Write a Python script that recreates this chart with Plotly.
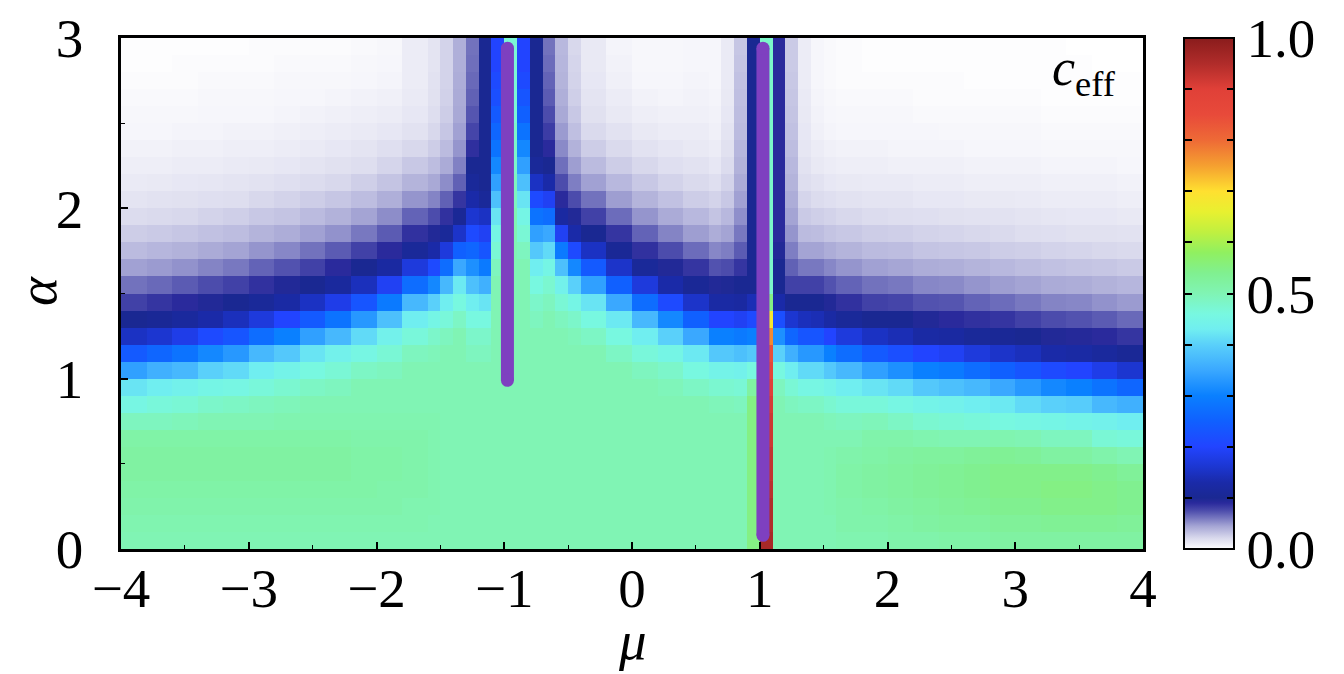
import numpy as np
import plotly.graph_objects as go

# ---------------- data ----------------
# cell edges of the c_eff map (mu horizontally, alpha vertically)
mu_edges = [-4.0, -3.8, -3.6, -3.4, -3.2, -3.0, -2.8, -2.6, -2.4, -2.2, -2.0, -1.8, -1.6,
            -1.5, -1.4, -1.3, -1.2, -1.1, -1.0, -0.9, -0.8, -0.7, -0.6, -0.5, -0.4,
            -0.2, 0.0, 0.2, 0.4, 0.6,
            0.7, 0.8, 0.9, 1.0, 1.1, 1.2, 1.3, 1.4, 1.5, 1.6,
            1.8, 2.0, 2.2, 2.4, 2.6, 2.8, 3.0, 3.2, 3.4, 3.6, 3.8, 4.0]
alpha_edges = [0.0, 0.1, 0.2, 0.3, 0.4, 0.5, 0.6, 0.7, 0.8, 0.9, 1.0, 1.1, 1.2, 1.3, 1.4, 1.5,
               1.6, 1.7, 1.8, 1.9, 2.0, 2.1, 2.2, 2.3, 2.4, 2.5, 2.6, 2.7, 2.8, 2.9, 3.0]

# each inner list: one mu-column of c_eff, from alpha = 0 (bottom) to alpha = 3 (top)
left_far = [
    [0.50,0.505,0.51,0.515,0.52,0.52,0.515,0.49,0.455,0.42,0.34,0.24,0.15,0.10,0.08,0.062,0.046,0.035,0.027,0.02,0.015,0.011,0.009,0.007,0.005,0.004,0.003,0.002,0.001,0.001],
    [0.50,0.505,0.51,0.515,0.52,0.52,0.515,0.49,0.465,0.43,0.36,0.26,0.16,0.105,0.085,0.065,0.048,0.037,0.028,0.021,0.016,0.012,0.009,0.007,0.005,0.004,0.003,0.002,0.001,0.001],
    [0.50,0.505,0.51,0.515,0.52,0.52,0.515,0.495,0.47,0.44,0.37,0.28,0.18,0.115,0.09,0.07,0.051,0.039,0.03,0.022,0.017,0.013,0.01,0.008,0.006,0.004,0.003,0.002,0.002,0.001],
    [0.50,0.505,0.51,0.515,0.52,0.52,0.515,0.50,0.48,0.45,0.40,0.31,0.21,0.13,0.095,0.075,0.056,0.042,0.032,0.024,0.018,0.014,0.01,0.008,0.006,0.005,0.004,0.003,0.002,0.001],
    [0.50,0.505,0.51,0.515,0.52,0.52,0.515,0.50,0.485,0.455,0.41,0.33,0.23,0.145,0.10,0.08,0.06,0.045,0.034,0.026,0.019,0.015,0.011,0.009,0.007,0.005,0.004,0.003,0.002,0.001],
    [0.50,0.505,0.51,0.515,0.52,0.52,0.515,0.50,0.49,0.465,0.43,0.37,0.27,0.17,0.11,0.087,0.067,0.05,0.038,0.029,0.022,0.016,0.012,0.009,0.007,0.005,0.004,0.003,0.002,0.002],
    [0.50,0.505,0.51,0.515,0.52,0.52,0.515,0.505,0.495,0.475,0.445,0.39,0.30,0.20,0.125,0.095,0.073,0.055,0.041,0.031,0.024,0.018,0.013,0.01,0.008,0.006,0.005,0.004,0.003,0.002],
    [0.50,0.505,0.51,0.515,0.52,0.52,0.515,0.505,0.50,0.485,0.46,0.42,0.34,0.24,0.15,0.10,0.08,0.062,0.046,0.035,0.027,0.02,0.015,0.011,0.009,0.007,0.005,0.004,0.003,0.002],
    [0.50,0.505,0.51,0.515,0.52,0.52,0.515,0.505,0.50,0.49,0.47,0.44,0.37,0.28,0.18,0.115,0.09,0.07,0.051,0.039,0.03,0.022,0.017,0.013,0.01,0.008,0.006,0.004,0.003,0.002],
    [0.50,0.505,0.51,0.515,0.515,0.515,0.51,0.505,0.50,0.50,0.485,0.455,0.41,0.33,0.23,0.145,0.10,0.08,0.06,0.045,0.034,0.026,0.019,0.015,0.011,0.009,0.007,0.005,0.004,0.003],
    [0.50,0.505,0.51,0.51,0.515,0.515,0.51,0.505,0.50,0.50,0.49,0.47,0.44,0.38,0.29,0.19,0.12,0.09,0.07,0.053,0.04,0.031,0.023,0.018,0.013,0.01,0.008,0.006,0.005,0.004],
    [0.50,0.505,0.505,0.51,0.51,0.51,0.51,0.505,0.50,0.50,0.50,0.49,0.465,0.43,0.37,0.27,0.17,0.11,0.087,0.067,0.05,0.038,0.029,0.022,0.016,0.013,0.011,0.01,0.01,0.01],
]
left_crit = [
    [0.50,0.50,0.505,0.505,0.505,0.505,0.505,0.505,0.50,0.50,0.50,0.495,0.48,0.45,0.40,0.31,0.21,0.13,0.095,0.075,0.056,0.043,0.034,0.027,0.022,0.019,0.017,0.016,0.015,0.015],
    [0.50,0.50,0.50,0.50,0.50,0.50,0.50,0.50,0.50,0.50,0.50,0.50,0.49,0.465,0.43,0.37,0.27,0.17,0.11,0.087,0.068,0.053,0.042,0.035,0.03,0.027,0.025,0.024,0.024,0.024],
    [0.50,0.50,0.50,0.50,0.50,0.50,0.50,0.50,0.50,0.50,0.50,0.50,0.50,0.485,0.46,0.425,0.35,0.25,0.155,0.105,0.085,0.068,0.057,0.05,0.046,0.043,0.042,0.041,0.04,0.04],
    [0.50,0.50,0.50,0.50,0.50,0.50,0.50,0.50,0.50,0.50,0.50,0.49,0.48,0.46,0.43,0.38,0.32,0.26,0.21,0.16,0.13,0.11,0.10,0.088,0.078,0.072,0.068,0.065,0.063,0.062],
    [0.50,0.50,0.50,0.50,0.50,0.50,0.50,0.50,0.50,0.50,0.50,0.49,0.48,0.46,0.42,0.36,0.29,0.23,0.19,0.15,0.11,0.10,0.10,0.10,0.10,0.10,0.10,0.10,0.10,0.10],
    [0.50,0.50,0.50,0.50,0.50,0.50,0.50,0.50,0.50,0.50,0.50,0.50,0.50,0.50,0.50,0.50,0.49,0.47,0.45,0.42,0.38,0.34,0.31,0.28,0.26,0.24,0.22,0.21,0.20,0.20],
    [0.50,0.50,0.50,0.50,0.50,0.50,0.50,0.50,0.50,0.50,0.50,0.50,0.50,0.50,0.50,0.50,0.50,0.50,0.50,0.50,0.49,0.49,0.48,0.48,0.48,0.47,0.47,0.47,0.47,0.47],
    [0.50,0.50,0.50,0.50,0.50,0.50,0.50,0.50,0.50,0.50,0.50,0.50,0.50,0.50,0.50,0.50,0.50,0.49,0.47,0.45,0.42,0.38,0.34,0.31,0.28,0.25,0.23,0.21,0.20,0.20],
    [0.50,0.50,0.50,0.50,0.50,0.50,0.50,0.50,0.50,0.50,0.50,0.50,0.50,0.49,0.48,0.46,0.43,0.39,0.34,0.28,0.21,0.15,0.11,0.10,0.10,0.10,0.10,0.10,0.10,0.10],
    [0.50,0.50,0.50,0.50,0.50,0.50,0.50,0.50,0.50,0.50,0.50,0.50,0.50,0.50,0.49,0.475,0.45,0.41,0.35,0.27,0.19,0.13,0.10,0.09,0.082,0.075,0.07,0.067,0.064,0.062],
    [0.50,0.50,0.50,0.50,0.50,0.50,0.50,0.50,0.50,0.50,0.50,0.50,0.50,0.49,0.47,0.44,0.38,0.29,0.19,0.12,0.09,0.075,0.063,0.054,0.048,0.043,0.04,0.038,0.037,0.036],
    [0.50,0.50,0.50,0.50,0.50,0.50,0.50,0.50,0.50,0.50,0.50,0.50,0.495,0.48,0.45,0.40,0.31,0.21,0.13,0.095,0.075,0.058,0.047,0.039,0.033,0.029,0.026,0.024,0.023,0.022],
]
middle = [
    [0.50,0.50,0.50,0.50,0.50,0.50,0.50,0.50,0.50,0.50,0.50,0.50,0.485,0.46,0.42,0.34,0.24,0.15,0.10,0.08,0.062,0.046,0.035,0.027,0.021,0.017,0.015,0.013,0.012,0.012],
    [0.50,0.50,0.50,0.50,0.50,0.50,0.50,0.50,0.50,0.50,0.50,0.485,0.46,0.425,0.35,0.25,0.155,0.105,0.085,0.064,0.047,0.036,0.027,0.021,0.016,0.012,0.01,0.008,0.007,0.006],
    [0.50,0.50,0.50,0.50,0.50,0.50,0.50,0.50,0.50,0.50,0.49,0.465,0.43,0.37,0.27,0.17,0.11,0.087,0.067,0.05,0.038,0.029,0.022,0.016,0.012,0.009,0.007,0.005,0.004,0.004],
    [0.50,0.50,0.50,0.50,0.50,0.50,0.50,0.50,0.50,0.495,0.48,0.45,0.40,0.31,0.21,0.13,0.095,0.075,0.056,0.042,0.032,0.024,0.018,0.014,0.01,0.008,0.006,0.005,0.004,0.004],
    [0.50,0.50,0.50,0.50,0.50,0.50,0.50,0.50,0.50,0.485,0.46,0.425,0.35,0.25,0.155,0.105,0.085,0.064,0.047,0.036,0.027,0.021,0.016,0.012,0.01,0.008,0.007,0.006,0.005,0.005],
    [0.50,0.50,0.50,0.50,0.50,0.50,0.50,0.50,0.495,0.475,0.445,0.39,0.30,0.20,0.125,0.095,0.073,0.055,0.041,0.031,0.024,0.018,0.013,0.01,0.008,0.007,0.006,0.005,0.005,0.005],
    [0.50,0.50,0.50,0.50,0.50,0.50,0.50,0.50,0.495,0.475,0.445,0.39,0.30,0.20,0.125,0.097,0.075,0.058,0.045,0.036,0.029,0.024,0.02,0.017,0.015,0.013,0.012,0.011,0.011,0.011],
    [0.50,0.50,0.50,0.50,0.50,0.50,0.50,0.50,0.49,0.47,0.44,0.38,0.29,0.19,0.12,0.10,0.085,0.07,0.06,0.052,0.046,0.042,0.039,0.037,0.035,0.034,0.033,0.032,0.031,0.03],
]
right_crit = [
    [0.55,0.55,0.55,0.55,0.55,0.55,0.55,0.55,0.55,0.52,0.46,0.39,0.30,0.21,0.14,0.10,0.10,0.10,0.10,0.10,0.10,0.10,0.10,0.10,0.10,0.10,0.10,0.10,0.10,0.10],
    [0.96,0.95,0.95,0.94,0.93,0.93,0.92,0.92,0.91,0.90,0.87,0.84,0.77,0.68,0.55,0.48,0.48,0.48,0.48,0.48,0.48,0.48,0.48,0.48,0.48,0.48,0.48,0.48,0.48,0.48],
    [0.50,0.50,0.50,0.50,0.50,0.50,0.50,0.50,0.50,0.49,0.46,0.40,0.32,0.22,0.13,0.10,0.10,0.095,0.09,0.09,0.09,0.09,0.09,0.09,0.09,0.09,0.09,0.09,0.09,0.09],
    [0.50,0.50,0.50,0.50,0.50,0.50,0.50,0.50,0.49,0.47,0.43,0.36,0.26,0.16,0.10,0.08,0.068,0.058,0.05,0.045,0.041,0.038,0.036,0.034,0.032,0.031,0.03,0.029,0.028,0.028],
    [0.50,0.50,0.50,0.50,0.50,0.50,0.50,0.50,0.485,0.455,0.41,0.33,0.23,0.145,0.10,0.08,0.06,0.045,0.035,0.028,0.023,0.019,0.016,0.014,0.013,0.012,0.011,0.01,0.01,0.01],
    [0.50,0.50,0.50,0.50,0.50,0.50,0.50,0.50,0.485,0.455,0.41,0.33,0.23,0.14,0.10,0.08,0.06,0.045,0.034,0.026,0.02,0.016,0.012,0.01,0.008,0.007,0.006,0.005,0.005,0.005],
    [0.50,0.50,0.505,0.505,0.505,0.505,0.50,0.495,0.475,0.445,0.39,0.30,0.20,0.125,0.095,0.073,0.055,0.041,0.031,0.024,0.018,0.013,0.01,0.008,0.006,0.005,0.004,0.003,0.003,0.003],
]
right_far = [
    [0.505,0.51,0.51,0.515,0.515,0.51,0.50,0.49,0.465,0.43,0.37,0.27,0.17,0.11,0.087,0.067,0.05,0.038,0.029,0.022,0.016,0.012,0.009,0.007,0.005,0.004,0.003,0.002,0.002,0.002],
    [0.505,0.51,0.515,0.52,0.52,0.515,0.51,0.495,0.465,0.42,0.34,0.24,0.15,0.10,0.08,0.062,0.046,0.035,0.027,0.02,0.015,0.011,0.009,0.007,0.005,0.004,0.003,0.002,0.001,0.001],
    [0.51,0.515,0.52,0.525,0.525,0.52,0.51,0.485,0.455,0.41,0.32,0.22,0.14,0.10,0.078,0.06,0.044,0.034,0.026,0.019,0.015,0.011,0.008,0.006,0.005,0.004,0.003,0.002,0.001,0.001],
    [0.51,0.52,0.525,0.53,0.53,0.525,0.505,0.475,0.445,0.39,0.30,0.20,0.125,0.095,0.073,0.055,0.041,0.031,0.024,0.018,0.013,0.01,0.008,0.006,0.005,0.003,0.002,0.002,0.001,0.001],
    [0.515,0.525,0.53,0.535,0.535,0.525,0.50,0.47,0.44,0.38,0.29,0.19,0.12,0.09,0.072,0.054,0.04,0.03,0.023,0.017,0.013,0.01,0.008,0.006,0.004,0.003,0.002,0.002,0.001,0.001],
    [0.515,0.525,0.535,0.54,0.54,0.53,0.50,0.465,0.43,0.37,0.27,0.17,0.11,0.087,0.067,0.05,0.038,0.029,0.022,0.016,0.012,0.009,0.007,0.005,0.004,0.003,0.002,0.001,0.001,0.001],
    [0.52,0.53,0.54,0.545,0.545,0.535,0.505,0.46,0.425,0.35,0.25,0.155,0.105,0.085,0.064,0.047,0.036,0.027,0.021,0.016,0.012,0.009,0.007,0.005,0.004,0.003,0.002,0.001,0.001,0.001],
    [0.52,0.53,0.54,0.545,0.545,0.53,0.50,0.455,0.41,0.33,0.23,0.145,0.10,0.08,0.06,0.045,0.034,0.026,0.019,0.015,0.011,0.009,0.007,0.005,0.004,0.003,0.002,0.001,0.001,0.001],
    [0.52,0.535,0.545,0.55,0.545,0.52,0.49,0.45,0.40,0.31,0.21,0.13,0.095,0.075,0.056,0.042,0.032,0.024,0.018,0.014,0.01,0.008,0.006,0.004,0.003,0.002,0.001,0.001,0.001,0.001],
    [0.52,0.535,0.545,0.55,0.545,0.52,0.49,0.445,0.395,0.30,0.20,0.125,0.093,0.073,0.055,0.041,0.031,0.023,0.017,0.013,0.01,0.008,0.006,0.004,0.003,0.002,0.001,0.001,0.001,0.0],
    [0.52,0.535,0.545,0.545,0.54,0.51,0.47,0.44,0.37,0.28,0.18,0.115,0.09,0.07,0.051,0.039,0.03,0.022,0.017,0.013,0.01,0.008,0.006,0.004,0.003,0.002,0.001,0.001,0.0,0.0],
    [0.52,0.53,0.54,0.54,0.53,0.50,0.465,0.43,0.36,0.26,0.16,0.105,0.085,0.065,0.048,0.037,0.028,0.021,0.016,0.012,0.009,0.007,0.005,0.004,0.003,0.002,0.001,0.001,0.0,0.0],
]

# critical lines drawn on top (mu position, alpha start, alpha end)
crit_mu = [-0.975, 1.025]
crit_alpha_start = [0.99, 0.08]
crit_alpha_end = [2.94, 2.94]

x_ticks = [-4, -3, -2, -1, 0, 1, 2, 3, 4]
y_ticks = [0, 1, 2, 3]
cbar_ticks = [0.0, 0.1, 0.2, 0.3, 0.4, 0.5, 0.6, 0.7, 0.8, 0.9, 1.0]
cbar_labels = ["0.0", " ", " ", " ", " ", "0.5", " ", " ", " ", " ", "1.0"]

# ---------------- figure ----------------
columns = left_far + left_crit + middle + right_crit + right_far
z = np.array(columns).T  # rows: alpha, cols: mu

colorscale = [
    [0.000, "#ffffff"], [0.010, "#ececf6"], [0.020, "#dcdcee"], [0.030, "#c6c6e4"],
    [0.045, "#a4a4d4"], [0.060, "#7878c0"], [0.075, "#4c4cac"], [0.090, "#2a2a9c"],
    [0.100, "#1a2892"], [0.130, "#1a2aa8"], [0.160, "#1c36d0"], [0.200, "#2244ff"],
    [0.250, "#1060ff"], [0.300, "#0a80ff"], [0.350, "#3aa8ff"], [0.400, "#5ad0fa"],
    [0.430, "#70eef0"], [0.460, "#78f8e0"], [0.500, "#80f4b4"], [0.540, "#80f090"],
    [0.580, "#90f060"], [0.620, "#c0f040"], [0.660, "#e8f030"], [0.700, "#ffe030"],
    [0.750, "#f5a030"], [0.800, "#ee6a36"], [0.850, "#e84a3a"], [0.900, "#e04038"],
    [0.950, "#b02c2a"], [1.000, "#8a1c1c"],
]

FONT = '"Times New Roman", "Liberation Serif", serif'
TICK_SIZE = 55
PURPLE = "#7e40c0"
CB_X = 1.0405      # left edge of the colour bar, in paper units
PLOT_W = 1022      # plot-area width in px

fig = go.Figure()
fig.add_trace(go.Heatmap(
    x=mu_edges, y=alpha_edges, z=z, zmin=0, zmax=1, zsmooth=False,
    colorscale=colorscale,
    colorbar=dict(
        x=CB_X, xanchor="left", y=0.5, yanchor="middle", len=1.0, lenmode="fraction",
        thickness=50, thicknessmode="pixels", xpad=0, ypad=0,
        outlinewidth=2, outlinecolor="black",
        tickvals=cbar_ticks, ticktext=cbar_labels, ticks="inside", ticklen=8,
        tickwidth=2, tickcolor="black",
        tickfont=dict(family=FONT, size=TICK_SIZE, color="black"),
    ),
    showscale=True, hoverinfo="skip",
))

# transparent second colour bar: draws the ticks on the left edge of the real bar
fig.add_trace(go.Scatter(
    x=[None], y=[None], mode="markers", showlegend=False, hoverinfo="skip",
    marker=dict(color=[0, 1], cmin=0, cmax=1, showscale=True,
                colorscale=[[0, "rgba(0,0,0,0)"], [1, "rgba(0,0,0,0)"]],
                colorbar=dict(x=CB_X - 1 / PLOT_W, xanchor="left", y=0.5, yanchor="middle",
                              len=1.0, thickness=1, xpad=0, ypad=0, outlinewidth=0,
                              tickvals=cbar_ticks, ticks="outside", ticklen=8, tickwidth=2,
                              tickcolor="black", showticklabels=False)),
))

for m, a0, a1 in zip(crit_mu, crit_alpha_start, crit_alpha_end):
    fig.add_trace(go.Scatter(
        x=[m, m], y=[a0, a1], mode="lines+markers",
        line=dict(color=PURPLE, width=13),
        marker=dict(color=PURPLE, size=13, line=dict(width=0)),
        showlegend=False, hoverinfo="skip", cliponaxis=False,
    ))

axis_common = dict(ticks="inside", ticklen=7, tickwidth=1.5, tickcolor="black",
                   showline=True, linewidth=2.5, linecolor="black", mirror=True,
                   showgrid=False, zeroline=False, automargin=False,
                   minor=dict(dtick=0.5, ticks="inside", ticklen=4, tickwidth=1.2,
                              tickcolor="black", showgrid=False),
                   tickfont=dict(family=FONT, size=TICK_SIZE, color="black"))

# the page body has an 8 px margin, so the figure is 8 px smaller and shifted
fig.update_layout(
    width=1336, height=666,
    margin=dict(l=113, r=201, t=30, b=125),
    paper_bgcolor="white", plot_bgcolor="white",
    showlegend=False,
    xaxis=dict(range=[-4, 4], tickvals=x_ticks, ticklabelstandoff=-11, **axis_common),
    yaxis=dict(range=[0, 3], tickvals=y_ticks, ticklabelstandoff=24, **axis_common),
    annotations=[
        dict(text="<i>μ</i>", x=0.5, y=0, xref="paper", yref="paper", xanchor="center",
             yanchor="middle", yshift=-91, showarrow=False,
             font=dict(family=FONT, size=TICK_SIZE, color="black")),
        dict(text="<i>α</i>", x=0, y=0.505, xref="paper", yref="paper", xanchor="center",
             yanchor="middle", xshift=-83, textangle=-90, showarrow=False,
             font=dict(family=FONT, size=TICK_SIZE, color="black")),
        dict(text="<i>c</i><sub>eff</sub>", x=0.9755, y=0.935, xref="paper", yref="paper",
             xanchor="right", yanchor="middle", showarrow=False,
             font=dict(family=FONT, size=52, color="black")),
    ],
)

fig.write_html("out.html")
